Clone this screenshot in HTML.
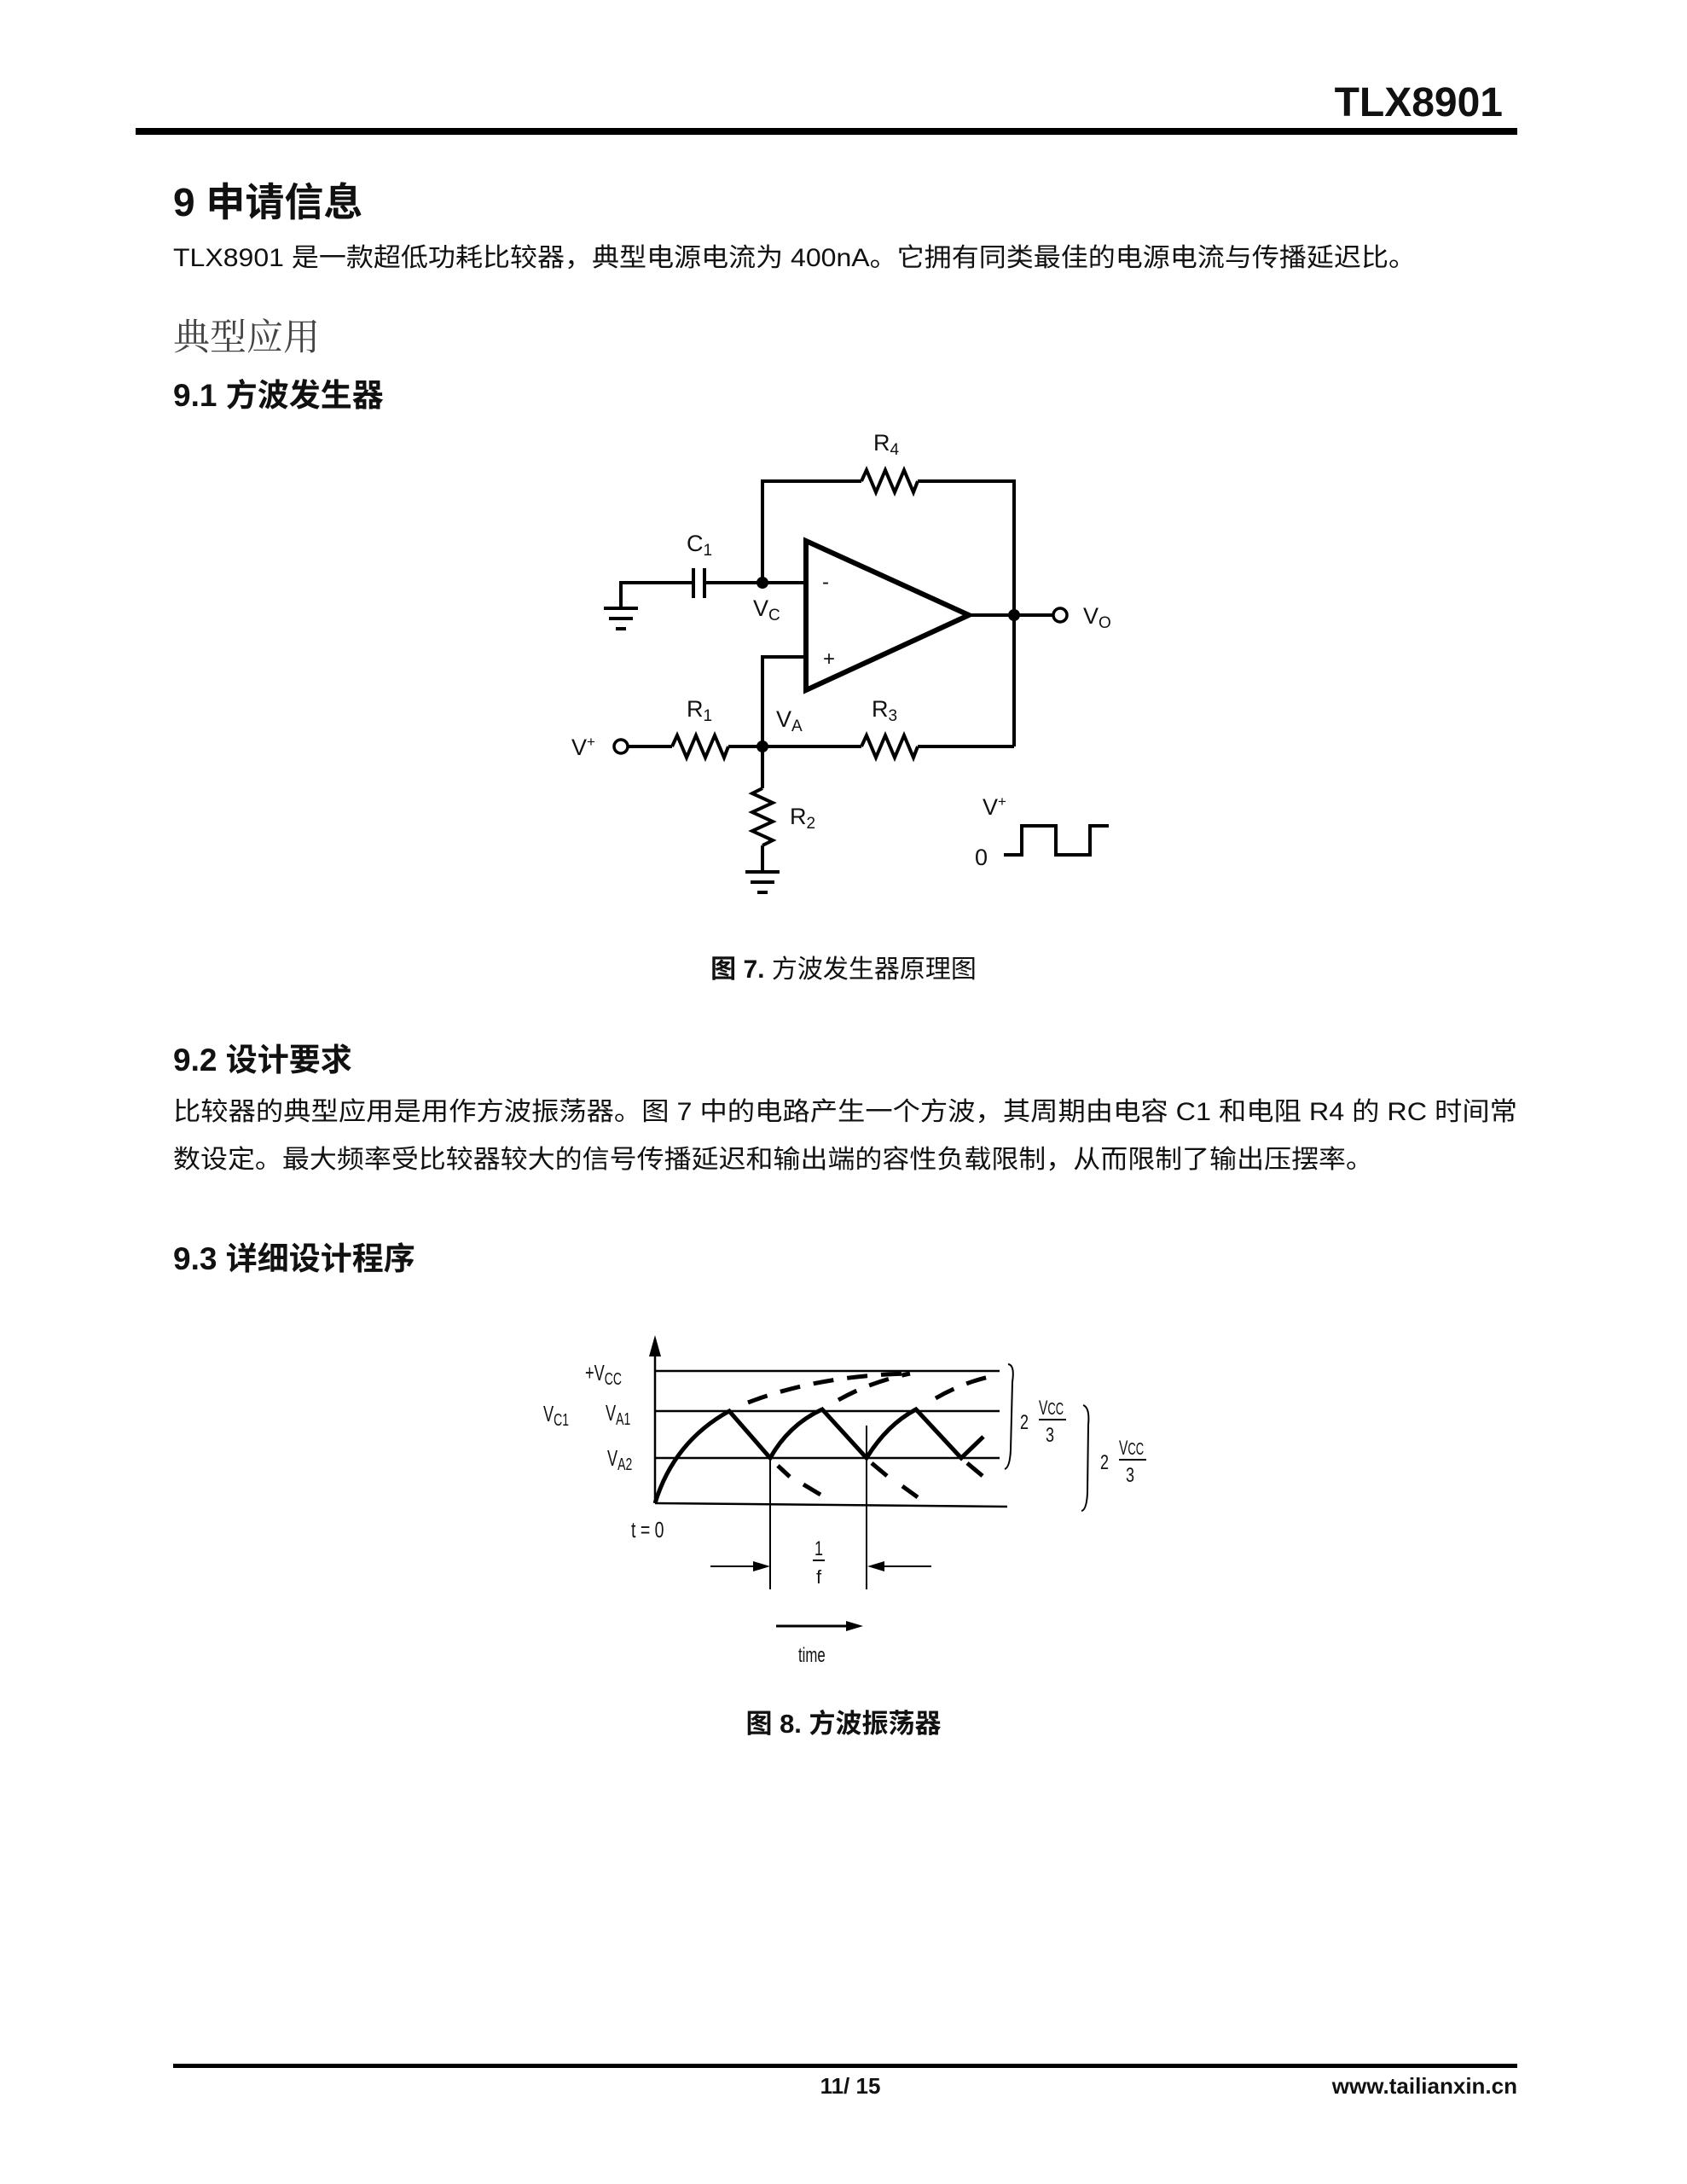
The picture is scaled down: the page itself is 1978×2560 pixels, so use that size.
<!DOCTYPE html>
<html><head><meta charset="utf-8"><style>
html,body{margin:0;padding:0;background:#fff}
svg{display:block}
text{font-family:"Liberation Sans","Noto Sans CJK SC",sans-serif;fill:#111}
.b{font-weight:bold}
</style></head><body>
<svg width="1978" height="2560" viewBox="0 0 1978 2560" xmlns="http://www.w3.org/2000/svg">
<!-- header -->
<text x="1762" y="136" class="b" font-size="48" text-anchor="end">TLX8901</text>
<rect x="159" y="150" width="1620" height="8" fill="#000"/>
<text x="203" y="253" class="b" font-size="46">9 申请信息</text>
<text x="203" y="312" font-size="30" textLength="1457" lengthAdjust="spacingAndGlyphs">TLX8901 是一款超低功耗比较器，典型电源电流为 400nA。它拥有同类最佳的电源电流与传播延迟比。</text>
<text x="203" y="410" font-size="43" style="font-family:'Noto Serif CJK SC',serif;fill:#444">典型应用</text>
<text x="203" y="476" class="b" font-size="37">9.1 方波发生器</text>

<!-- circuit -->
<g stroke="#000" stroke-width="4" fill="none">
<polyline points="894,683 894,564 1010,564"/>
<polyline points="1010,564 1016,551 1027,577 1038,551 1049,577 1060,551 1071,577 1076,564"/>
<polyline points="1076,564 1189,564 1189,875"/>
<polygon points="945,634 945,809 1136,721" stroke-width="6"/>
<line x1="826" y1="683" x2="945" y2="683"/>
<line x1="728" y1="683" x2="813" y2="683"/>
<line x1="813" y1="666" x2="813" y2="701"/>
<line x1="826" y1="666" x2="826" y2="701"/>
<line x1="728" y1="681" x2="728" y2="712"/>
<line x1="708" y1="713" x2="748" y2="713"/>
<line x1="714" y1="725" x2="742" y2="725"/>
<line x1="722" y1="737" x2="734" y2="737"/>
<polyline points="945,770 894,770 894,924"/>
<line x1="894" y1="991" x2="894" y2="1022"/>
<line x1="736" y1="875" x2="788" y2="875"/>
<polyline points="788,875 794,862 805,888 816,862 827,888 838,862 849,888 854,875"/>
<line x1="854" y1="875" x2="1010" y2="875"/>
<polyline points="1010,875 1016,862 1027,888 1038,862 1049,888 1060,862 1071,888 1076,875"/>
<line x1="1076" y1="875" x2="1189" y2="875"/>
<polyline points="894,924 882,930 906,941 882,952 906,963 882,974 906,985 894,991"/>
<line x1="874" y1="1022" x2="914" y2="1022"/>
<line x1="880" y1="1034" x2="908" y2="1034"/>
<line x1="888" y1="1046" x2="900" y2="1046"/>
<line x1="1136" y1="721" x2="1235" y2="721"/>
<circle cx="728" cy="875" r="8" stroke-width="3.5"/>
<circle cx="1243" cy="721" r="8" stroke-width="3.5"/>
<polyline points="1177,1002 1198,1002 1198,968 1238,968 1238,1002 1278,1002 1278,968 1300,968"/>
</g>
<circle cx="894" cy="683" r="7" fill="#000"/>
<circle cx="894" cy="875" r="7" fill="#000"/>
<circle cx="1189" cy="721" r="7" fill="#000"/>
<g font-size="27">
<text x="1024" y="528">R<tspan font-size="19" dy="5">4</tspan></text>
<text x="805" y="646">C<tspan font-size="19" dy="5">1</tspan></text>
<text x="883" y="722">V<tspan font-size="19" dy="5">C</tspan></text>
<text x="964" y="690" font-size="24">-</text>
<text x="965" y="780" font-size="24">+</text>
<text x="1270" y="731">V<tspan font-size="19" dy="5">O</tspan></text>
<text x="805" y="840">R<tspan font-size="19" dy="5">1</tspan></text>
<text x="910" y="852">V<tspan font-size="19" dy="5">A</tspan></text>
<text x="1022" y="840">R<tspan font-size="19" dy="5">3</tspan></text>
<text x="670" y="885">V<tspan font-size="17" dy="-10">+</tspan></text>
<text x="926" y="966">R<tspan font-size="19" dy="5">2</tspan></text>
<text x="1152" y="955">V<tspan font-size="17" dy="-10">+</tspan></text>
<text x="1143" y="1014">0</text>
</g>
<text x="989" y="1146" font-size="30" text-anchor="middle"><tspan class="b">图 7.</tspan> 方波发生器原理图</text>

<text x="203" y="1255" class="b" font-size="37">9.2 设计要求</text>
<text x="203" y="1313" font-size="30" textLength="1576" lengthAdjust="spacingAndGlyphs">比较器的典型应用是用作方波振荡器。图 7 中的电路产生一个方波，其周期由电容 C1 和电阻 R4 的 RC 时间常</text>
<text x="203" y="1369" font-size="30" textLength="1407" lengthAdjust="spacingAndGlyphs">数设定。最大频率受比较器较大的信号传播延迟和输出端的容性负载限制，从而限制了输出压摆率。</text>
<text x="203" y="1488" class="b" font-size="37">9.3 详细设计程序</text>

<!-- waveform -->
<g stroke="#000" fill="none" stroke-width="2.5">
<line x1="768" y1="1580" x2="768" y2="1762"/>
<line x1="768" y1="1607" x2="1172" y2="1607"/>
<line x1="768" y1="1654" x2="1172" y2="1654"/>
<line x1="768" y1="1709" x2="1172" y2="1709"/>
<line x1="768" y1="1762" x2="1181" y2="1766"/>
<path d="M768,1762 Q790,1690 855,1654 L903,1709 Q925,1670 964,1652 L1016,1709 Q1040,1670 1074,1652 L1127,1709 L1153,1684" stroke-width="5"/>
<path d="M877,1644 Q960,1612 1067,1610" stroke-width="5" stroke-dasharray="24,16"/>
<path d="M983,1641 Q1020,1620 1067,1610" stroke-width="5" stroke-dasharray="24,16"/>
<path d="M1097,1639 Q1130,1620 1164,1613" stroke-width="5" stroke-dasharray="24,16"/>
<g stroke-width="5">
<line x1="912" y1="1718" x2="926" y2="1731"/>
<line x1="942" y1="1740" x2="962" y2="1752"/>
<line x1="1022" y1="1715" x2="1040" y2="1730"/>
<line x1="1058" y1="1742" x2="1076" y2="1755"/>
<line x1="1134" y1="1715" x2="1152" y2="1730"/>
</g>
<line x1="903" y1="1709" x2="903" y2="1863" stroke-width="2"/>
<line x1="1016" y1="1671" x2="1016" y2="1863" stroke-width="2"/>
<line x1="833" y1="1836" x2="885" y2="1836" stroke-width="2"/>
<line x1="1037" y1="1836" x2="1092" y2="1836" stroke-width="2"/>
<line x1="910" y1="1906" x2="995" y2="1906" stroke-width="3"/>
<path d="M1182,1599 Q1190,1600 1187,1620 L1185,1700 Q1184,1720 1178,1722" stroke-width="2"/>
<path d="M1270,1647 Q1278,1650 1276,1670 L1275,1750 Q1274,1770 1268,1771" stroke-width="2"/>
<line x1="1218" y1="1664" x2="1250" y2="1664" stroke-width="2"/>
<line x1="1312" y1="1711" x2="1344" y2="1711" stroke-width="2"/>
<line x1="953" y1="1829" x2="967" y2="1829" stroke-width="2"/>
</g>
<polygon points="768,1565 761,1590 775,1590" fill="#000"/>
<polygon points="903,1836 883,1830 883,1842" fill="#000"/>
<polygon points="1017,1836 1037,1830 1037,1842" fill="#000"/>
<polygon points="1012,1906 992,1900 992,1912" fill="#000"/>
<g font-size="26">
<text x="686" y="1618" transform="translate(686,0) scale(0.7,1) translate(-686,0)">+V<tspan font-size="20" dy="5">CC</tspan></text>
<text x="637" y="1666" transform="translate(637,0) scale(0.7,1) translate(-637,0)">V<tspan font-size="20" dy="5">C1</tspan></text>
<text x="710" y="1665" transform="translate(710,0) scale(0.7,1) translate(-710,0)">V<tspan font-size="20" dy="5">A1</tspan></text>
<text x="712" y="1718" transform="translate(712,0) scale(0.7,1) translate(-712,0)">V<tspan font-size="20" dy="5">A2</tspan></text>
<text x="740" y="1802" transform="translate(740,0) scale(0.75,1) translate(-740,0)">t = 0</text>
<text x="960" y="1823" text-anchor="middle" font-size="24" transform="translate(960,0) scale(0.75,1) translate(-960,0)">1</text>
<text x="960" y="1856" text-anchor="middle" font-size="22">f</text>
<text x="936" y="1948" font-size="24" transform="translate(936,0) scale(0.7,1) translate(-936,0)">time</text>
<text x="1196" y="1675" font-size="24" transform="translate(1196,0) scale(0.75,1) translate(-1196,0)">2</text>
<text x="1218" y="1658" font-size="24" transform="translate(1218,0) scale(0.65,1) translate(-1218,0)">V<tspan font-size="20">CC</tspan></text>
<text x="1226" y="1690" font-size="24" transform="translate(1226,0) scale(0.75,1) translate(-1226,0)">3</text>
<text x="1290" y="1722" font-size="24" transform="translate(1290,0) scale(0.75,1) translate(-1290,0)">2</text>
<text x="1312" y="1705" font-size="24" transform="translate(1312,0) scale(0.65,1) translate(-1312,0)">V<tspan font-size="20">CC</tspan></text>
<text x="1320" y="1737" font-size="24" transform="translate(1320,0) scale(0.75,1) translate(-1320,0)">3</text>
</g>
<text x="989" y="2031" class="b" font-size="31" text-anchor="middle">图 8. 方波振荡器</text>

<!-- footer -->
<rect x="203" y="2419" width="1576" height="5" fill="#000"/>
<text x="997" y="2454" class="b" font-size="26" text-anchor="middle">11/ 15</text>
<text x="1779" y="2454" class="b" font-size="26" text-anchor="end">www.tailianxin.cn</text>
</svg>
</body></html>
